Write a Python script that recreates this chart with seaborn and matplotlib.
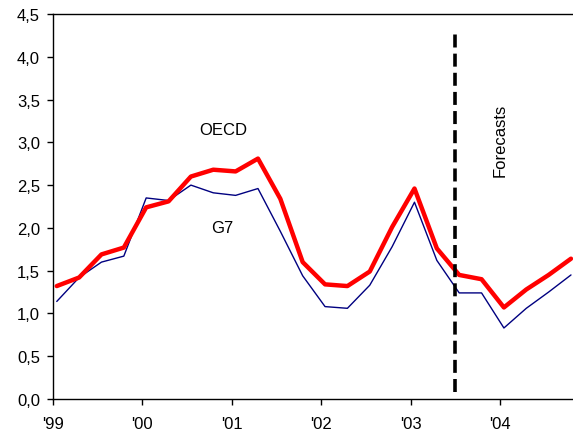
import numpy as np
import pandas as pd
import seaborn as sns
import matplotlib
matplotlib.use("Agg")
import matplotlib.pyplot as plt
import matplotlib.ticker as mtick

# quarterly data, 1999 Q1 .. 2004 Q4
years = ["'99", "'00", "'01", "'02", "'03", "'04"]
quarter_idx = list(range(24))
oecd = [1.32, 1.42, 1.69, 1.77, 2.24, 2.31, 2.60, 2.68, 2.66, 2.81, 2.34, 1.60,
        1.34, 1.32, 1.49, 2.01, 2.46, 1.76, 1.45, 1.40, 1.07, 1.28, 1.45, 1.64]
g7 = [1.14, 1.42, 1.60, 1.67, 2.35, 2.32, 2.50, 2.41, 2.38, 2.46, 1.96, 1.44,
      1.08, 1.06, 1.33, 1.78, 2.30, 1.62, 1.24, 1.24, 0.83, 1.06, 1.25, 1.45]
forecast_start = 17.83

df = pd.DataFrame({"q": quarter_idx, "OECD": oecd, "G7": g7})

sns.set_style("white")
plt.rcParams['font.family'] = ['Liberation Sans', 'DejaVu Sans']
plt.rcParams['text.color'] = 'black'

fig = plt.figure(figsize=(5.73, 4.39), dpi=100)
ax = fig.add_axes([52.5 / 573, 1 - 400 / 439, 1 - 52.5 / 573, (400 - 15) / 439])

sns.lineplot(data=df, x="q", y="G7", color="#000080", linewidth=1.0, ax=ax)
sns.lineplot(data=df, x="q", y="OECD", color="#ff0000", linewidth=3.2, ax=ax)

# start of the forecast period
ax.plot([forecast_start, forecast_start], [0.08, 4.32], color="black",
        linewidth=2.6, dashes=(3.6, 1.7))

ax.text(7.45, 3.15, "OECD", fontsize=12, ha="center", va="center")
ax.text(7.4, 2.01, "G7", fontsize=12, ha="center", va="center")
ax.text(19.83, 3.04, "Forecasts", fontsize=12, ha="center", va="center", rotation=90)

ax.set_xlim(-0.19, 23.09)
ax.set_ylim(0, 4.5)
ax.set_xticks([4 * i - 0.17 for i in range(len(years))])
ax.set_xticklabels(years)
ax.set_yticks(np.arange(0, 4.51, 0.5))
ax.yaxis.set_major_formatter(mtick.FuncFormatter(lambda v, p: f"{v:.1f}".replace(".", ",")))
ax.set_xlabel("")
ax.set_ylabel("")

for s in ["left", "bottom", "top"]:
    ax.spines[s].set_visible(True)
    ax.spines[s].set_color("black")
    ax.spines[s].set_linewidth(1.0)
ax.spines["right"].set_visible(False)

ax.tick_params(axis="both", which="both", direction="out", length=4, width=1,
               color="black", labelsize=12, labelcolor="black")
ax.tick_params(axis="y", pad=5, left=True)
ax.tick_params(axis="x", pad=8, bottom=True)

fig.savefig("out.png", dpi=100)
